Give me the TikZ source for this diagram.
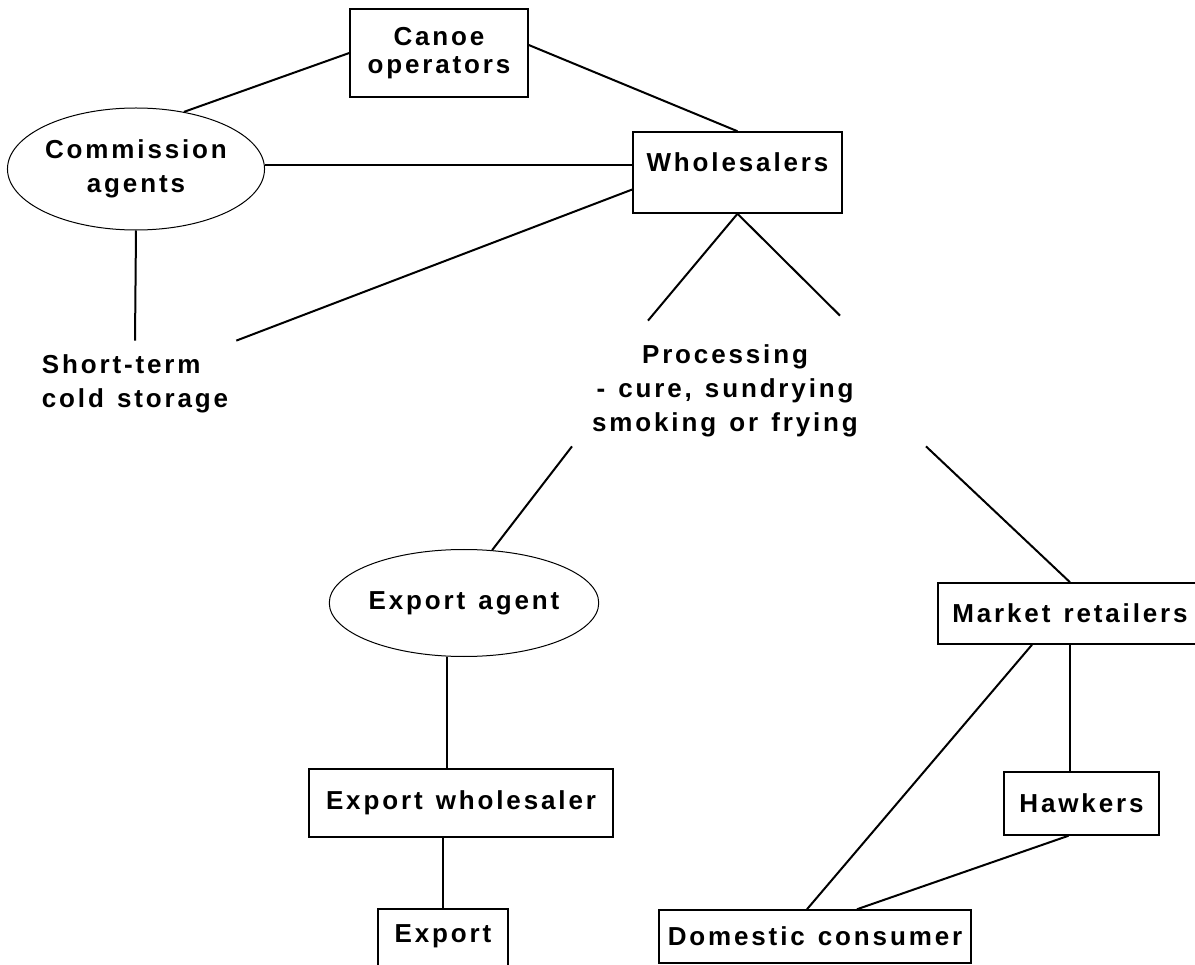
\documentclass[tikz,border=0pt]{standalone}
\usepackage{fontspec}
\setmainfont{Liberation Sans}
\newfontfamily\chainfont[LetterSpace=11,WordSpace=1.3]{Liberation Sans}
\usepackage{tikz}
\usetikzlibrary{shapes.geometric}
\usetikzlibrary{positioning}
\usetikzlibrary{calc}
\tikzstyle{actor} = [rectangle, draw, line width=1.5pt, text centered, inner sep=4pt]
\tikzstyle{agent} = [ellipse, draw, line width=1pt, text centered, inner sep=0pt]
\tikzstyle{stage} = [text centered, inner sep=0pt]
\tikzstyle{link} = [line width=2pt]

\begin{document}
\begin{tikzpicture}[x=1pt,y=-1pt,font=\chainfont\bfseries\fontsize{26}{34}\selectfont]

		\useasboundingbox (0,0) rectangle (1195,965);
		\clip (0,0) rectangle (1195,965);

		\node [actor, align=center, minimum width=178pt, minimum height=88pt] (canoe) at (439,53) {Canoe\\[-6pt]operators};
		\node [agent, align=center, minimum width=242pt, minimum height=122pt] (commission) at (136,169) {Commission\\agents};
		\node [actor, align=center, minimum width=209pt, minimum height=81pt, text depth=21pt] (whole) at (737.5,172.5) {Wholesalers};
		\node [stage, align=left, inner xsep=8pt, inner ysep=14pt] (storage) at (135,384) {Short-term\\cold storage};
		\node [stage, align=center] (processing) at (725,391) {Processing\\- cure, sundrying\\smoking or frying};

		\node [agent, align=center, minimum width=268pt, minimum height=107pt] (exportagent) at (464,603) {Export agent};
		\node [actor, align=center, minimum width=304pt, minimum height=68pt] (exportwh) at (461,803) {Export wholesaler};
		\node [actor, align=center, minimum width=130pt, minimum height=70pt, text depth=20pt] (export) at (443,944) {Export};

		\node [actor, align=center, minimum width=264pt, minimum height=61pt] (market) at (1070,613.5) {Market retailers};
		\node [actor, align=center, minimum width=155pt, minimum height=63pt] (hawkers) at (1081.5,803.5) {Hawkers};
		\node [actor, align=center, minimum width=312pt, minimum height=53pt] (domestic) at (815,936.5) {Domestic consumer};

		% free ends round the processing text
		\coordinate (procNW) at ([xshift=-77pt,yshift=24pt]processing.north);
		\coordinate (procNE) at ([xshift=115pt,yshift=29pt]processing.north);
		\coordinate (procSW) at ([xshift=-153pt,yshift=-9pt]processing.south);
		\coordinate (procSE) at ([xshift=201pt,yshift=-9pt]processing.south);

		% connections
		\draw[link] (commission.50) -- (canoe.west);
		\draw[link] ([yshift=8pt]canoe.east) -- (whole.north);
		\draw[link] ([yshift=4pt]commission.east) -- ([yshift=4pt]commission.east -| whole.west);
		\draw[link] ([yshift=-17pt]whole.west) -- (storage.north east);
		\draw[link] (commission.south) -- (storage.north);

		\draw[link] (whole.south) -- (procNW);
		\draw[link] (whole.south) -- (procNE);
		\draw[link] (procSW) -- (exportagent.62);
		\draw[link] (procSE) -- (market.north);

		\draw[link] ([xshift=-17pt]exportagent.south) -- ([xshift=-17pt]exportagent.south |- exportwh.north);
		\draw[link] (exportwh.south -| export.north) -- (export.north);

		\draw[link] (market.south) -- (market.south |- hawkers.north);
		\draw[link] ([xshift=-38pt]market.south) -- ([xshift=-8pt]domestic.north);
		\draw[link] ([xshift=-13pt]hawkers.south) -- ([xshift=42pt]domestic.north);

\end{tikzpicture}
\end{document}
